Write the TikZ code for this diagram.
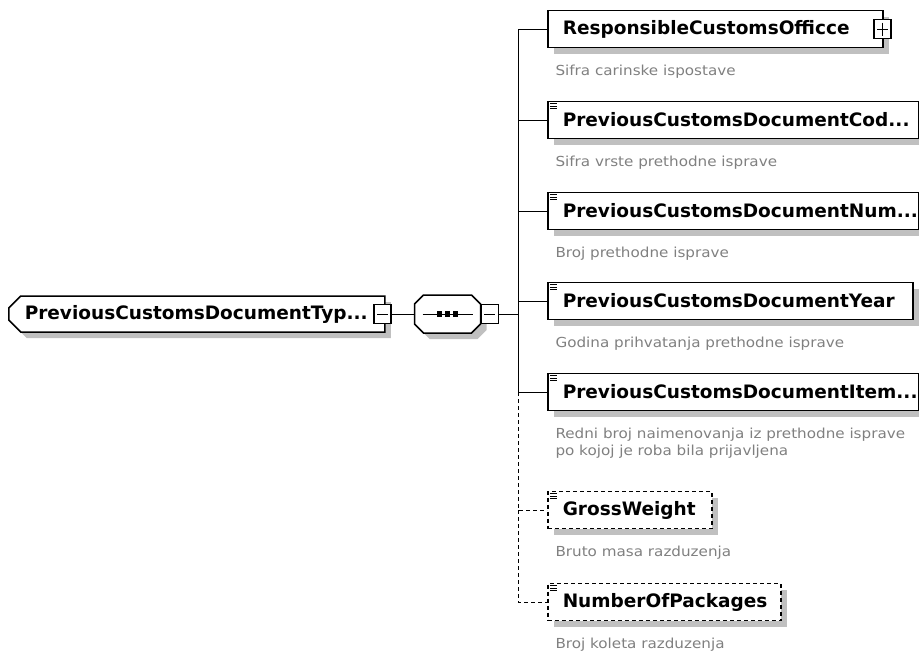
\documentclass[tikz,border=0pt]{standalone}
\usepackage{fontspec}
\newfontfamily\elfont{DejaVu Sans}
\newfontfamily\docfont[FakeStretch=1.1]{DejaVu Sans}
\usetikzlibrary{positioning,calc,shapes.misc,shadows}
\definecolor{shadowgray}{HTML}{C0C0C0}
\definecolor{docgray}{HTML}{808080}

\tikzset{
  boxshadow/.style={drop shadow={shadow xshift=6pt, shadow yshift=-6pt, fill=shadowgray, opacity=1}},
  elbox/.style={draw, rectangle, line width=1.5pt, fill=white, anchor=west,
    minimum height=37pt, inner sep=0pt,
    font={\elfont\bfseries\fontsize{18.5}{20}\selectfont},
    execute at begin node={\hbox to #1\bgroup\hspace*{15pt}},
    execute at end node={\hss\egroup}, boxshadow},
  optbox/.style={elbox=#1, dash pattern=on 4pt off 3pt},
  rootbox/.style={draw, chamfered rectangle, chamfered rectangle corners={north west,south west},
    chamfered rectangle sep=6pt, line width=1.5pt, fill=white, anchor=west,
    minimum height=36pt, inner sep=0pt,
    font={\elfont\bfseries\fontsize{18.5}{20}\selectfont},
    execute at begin node={\hbox to #1\bgroup\hspace*{10pt}},
    execute at end node={\hss\egroup}, boxshadow},
  seqbox/.style={rectangle, minimum width=65pt, minimum height=37pt, inner sep=0pt},
  seqline/.style={draw, line width=1.5pt, fill=white, boxshadow},
  btn/.style={draw, rectangle, line width=1.2pt, fill=white, minimum width=17pt,
    minimum height=19pt, inner sep=0pt},
  minusbtn/.style={btn, path picture={
    \draw[line width=1pt] ([xshift=3pt]path picture bounding box.west) -- ([xshift=-3pt]path picture bounding box.east);}},
  plusbtn/.style={btn, path picture={
    \draw[line width=1pt] ([xshift=3pt]path picture bounding box.west) -- ([xshift=-3pt]path picture bounding box.east);
    \draw[line width=1pt] ([yshift=-3pt]path picture bounding box.north) -- ([yshift=3pt]path picture bounding box.south);}},
  desc/.style={anchor=north west, inner sep=0pt, align=left, text=docgray,
    font={\docfont\fontsize{13.8}{17}\selectfont}},
  optline/.style={dash pattern=on 4pt off 3pt},
}

% small "simple content" mark in the corner of an element box
\newcommand\elicon[1]{%
  \foreach \dy in {3,5.5,8}
    \draw[line width=0.9pt] ([shift={(3pt,-\dy pt)}]#1.north west) -- +(7,0);}

\begin{document}
\begin{tikzpicture}[x=1pt, y=-1pt, line width=1pt]
\useasboundingbox (0,0) rectangle (919,653);

% root type and sequence
\node[rootbox=364pt] (root) at (8,314) {PreviousCustomsDocumentTyp...};
\node[minusbtn] (rootbtn) at ([xshift=-3pt]root.east) {};
\node[seqbox] (seq) at (447.5,314) {};
\path[seqline] ([xshift=9pt]seq.north west) -- ([xshift=-9pt]seq.north east)
  -- ([yshift=-9pt]seq.north east) -- ([yshift=9pt]seq.south east)
  -- ([xshift=-9pt]seq.south east) -- ([xshift=9pt]seq.south west)
  -- ([yshift=9pt]seq.south west) -- ([yshift=-9pt]seq.north west) -- cycle;
\draw ([xshift=8pt]seq.west) -- ([xshift=-8pt]seq.east);
\foreach \dx in {-8,0,8}
  \fill ([shift={(\dx pt-2.75pt,2.75pt)}]seq.center) rectangle +(5.5,5.5);
\node[minusbtn, anchor=west] (seqbtn) at (seq.east) {};
\coordinate (jn) at (518,314);

% child elements
\node[elbox=335pt] (resp) at (547,29) {ResponsibleCustomsOfficce};
\node[plusbtn] (respbtn) at ([xshift=-1pt]resp.east) {};
\node[elbox=371pt] (cod) at (547,120) {PreviousCustomsDocumentCod...};
\node[elbox=371pt] (num) at (547,211) {PreviousCustomsDocumentNum...};
\node[elbox=365pt] (year) at (547,301) {PreviousCustomsDocumentYear};
\node[elbox=371pt] (item) at (547,392) {PreviousCustomsDocumentItem...};
\node[optbox=164pt] (gross) at (547,510) {GrossWeight};
\node[optbox=233pt] (pack) at (547,602) {NumberOfPackages};
\foreach \n in {cod,num,year,item,gross,pack}
  \elicon{\n};

% annotations
\node[desc] (respdoc) at (555,65) {Sifra carinske ispostave};
\node[desc] (coddoc) at (555,156) {Sifra vrste prethodne isprave};
\node[desc] (numdoc) at (555,247) {Broj prethodne isprave};
\node[desc] (yeardoc) at (555,337) {Godina prihvatanja prethodne isprave};
\node[desc] (itemdoc) at (555,428) {Redni broj naimenovanja iz prethodne isprave\\po kojoj je roba bila prijavljena};
\node[desc] (grossdoc) at (555,546) {Bruto masa razduzenja};
\node[desc] (packdoc) at (555,638) {Broj koleta razduzenja};

% connectors
\draw (rootbtn) -- (seq);
\draw (seqbtn) -- (jn);
\draw (resp.west -| jn) -- (item.west -| jn);
\foreach \n in {resp,cod,num,year,item}
  \draw (\n.west -| jn) -- (\n.west);
\draw[optline] (item.west -| jn) |- (gross.west);
\draw[optline] (gross.west -| jn) |- (pack.west);
\end{tikzpicture}
\end{document}
